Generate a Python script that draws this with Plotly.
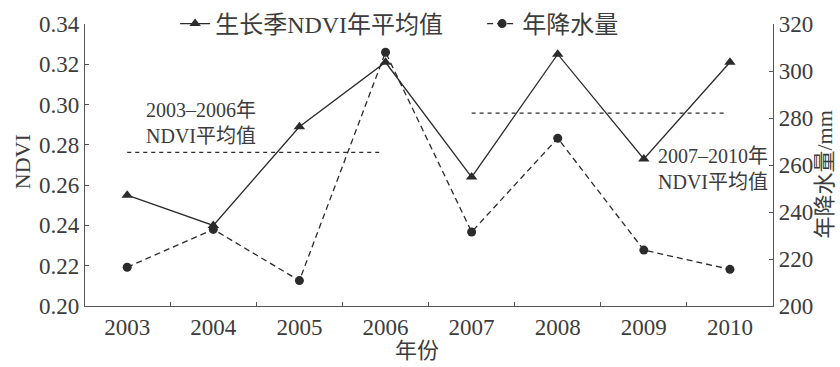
import plotly.graph_objects as go

# Annual series, 2003-2010
years = [2003, 2004, 2005, 2006, 2007, 2008, 2009, 2010]
ndvi = [0.255, 0.240, 0.289, 0.321, 0.264, 0.325, 0.273, 0.321]
precip = [216.5, 232.6, 210.8, 308.0, 231.5, 271.4, 223.8, 215.6]

# Two sub-periods for the NDVI mean reference lines
period_a = [2003, 2006]
period_b = [2007, 2010]

y_ticks = [0.20, 0.22, 0.24, 0.26, 0.28, 0.30, 0.32, 0.34]
y2_ticks = [200, 220, 240, 260, 280, 300, 320]

INK = "#2b2b2b"
TXT = "#3c3c3c"
FONT = "Liberation Serif, Noto Sans CJK SC, serif"


def period_mean(span):
    vals = [v for y, v in zip(years, ndvi) if span[0] <= y <= span[1]]
    return sum(vals) / len(vals)


mean_a = period_mean(period_a)
mean_b = period_mean(period_b)

fig = go.Figure()

fig.add_trace(go.Scatter(
    x=years, y=ndvi, name="生长季NDVI年平均值", mode="lines+markers",
    line=dict(color=INK, width=1.3),
    marker=dict(symbol="triangle-up", size=10, color=INK),
))
fig.add_trace(go.Scatter(
    x=years, y=precip, name="年降水量", mode="lines+markers", yaxis="y2",
    line=dict(color=INK, width=1.3, dash="6px,4px"),
    marker=dict(symbol="circle", size=9, color=INK),
))

# Period mean lines
for span, m in ((period_a, mean_a), (period_b, mean_b)):
    fig.add_trace(go.Scatter(
        x=[span[0], span[1] - 0.06], y=[m, m], mode="lines", showlegend=False,
        line=dict(color=INK, width=1.2, dash="4px,4px"), hoverinfo="skip",
    ))

fig.add_annotation(
    x=2003.2, y=0.291, xref="x", yref="y", xanchor="left", yanchor="middle",
    text="2003–2006年<br>NDVI平均值", showarrow=False, align="left",
    font=dict(family=FONT, size=20, color=TXT),
)
fig.add_annotation(
    x=2010.47, y=0.268, xref="x", yref="y", xanchor="right", yanchor="middle",
    text="2007–2010年<br>NDVI平均值", showarrow=False, align="right",
    font=dict(family=FONT, size=20, color=TXT),
)

# Axis titles
fig.add_annotation(
    x=0.4826, y=0, xref="paper", yref="paper", yshift=-59,
    xanchor="center", yanchor="bottom", text="年份", showarrow=False,
    font=dict(family=FONT, size=22, color=TXT),
)
fig.add_annotation(
    x=0, y=0.51, xref="paper", yref="paper", xshift=-63, textangle=-90,
    xanchor="center", yanchor="middle", text="NDVI", showarrow=False,
    font=dict(family=FONT, size=22, color=TXT),
)
fig.add_annotation(
    x=1, y=0.4645, xref="paper", yref="paper", xshift=66, textangle=-90,
    xanchor="right", yanchor="middle", text="年降水量/mm", showarrow=False,
    font=dict(family=FONT, size=22, color=TXT),
)

axis_common = dict(
    showline=True, linecolor="#555555", linewidth=1.3,
    showgrid=False, zeroline=False, automargin=False,
    tickfont=dict(family=FONT, size=23, color=TXT),
    tickcolor="#555555", ticklen=4, tickwidth=1.3,
)

fig.update_layout(
    width=840, height=367,
    margin=dict(l=85, r=67, t=24, b=61, autoexpand=False),
    paper_bgcolor="white", plot_bgcolor="white",
    font=dict(family=FONT, color=TXT),
    xaxis=dict(
        **axis_common,
        range=[2002.51, 2010.5],
        tickvals=years, ticks="",
        minor=dict(tickvals=[y + 0.5 for y in years[:-1]], ticks="inside",
                   ticklen=4, tickcolor="#555555", tickwidth=1.3),
    ),
    yaxis=dict(
        **axis_common,
        range=[0.20, 0.34], tickvals=y_ticks, tickformat=".2f", ticks="inside",
    ),
    yaxis2=dict(
        **axis_common,
        overlaying="y", side="right",
        range=[200, 320], tickvals=y2_ticks, ticks="inside",
    ),
    legend=dict(
        orientation="h", x=0.131, y=1.0, xanchor="left", yanchor="middle",
        bgcolor="rgba(0,0,0,0)", font=dict(family=FONT, size=24, color=TXT),
        itemwidth=30, tracegroupgap=0,
        entrywidth=262, entrywidthmode="pixels",
    ),
)

fig.write_html("out.html")
